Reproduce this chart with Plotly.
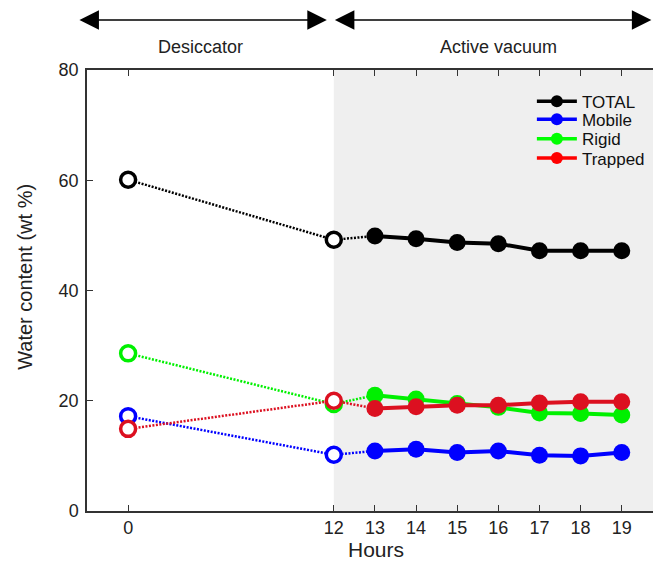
import plotly.graph_objects as go

# ---- data ----
hours = [0, 12, 13, 14, 15, 16, 17, 18, 19]
total = [60.1, 49.2, 49.9, 49.4, 48.7, 48.5, 47.2, 47.2, 47.2]
mobile = [17.2, 10.2, 10.9, 11.2, 10.6, 10.9, 10.1, 10.0, 10.6]
rigid = [28.6, 19.4, 21.0, 20.3, 19.5, 18.8, 17.8, 17.7, 17.4]
trapped = [14.9, 20.0, 18.6, 18.9, 19.2, 19.2, 19.6, 19.8, 19.8]
series_names = ["TOTAL", "Mobile", "Rigid", "Trapped"]
phase_labels = ["Desiccator", "Active vacuum"]
n_desiccator = 2  # first two points (0 h, 12 h) are desiccator samples


# broken time axis: 0-12 h compressed into 5 axis units
def axis_pos(h):
    return h if h >= 12 else 12 - 5 * (12 - h) / 12


xpos = [axis_pos(h) for h in hours]

colors = {"TOTAL": "#000000", "Mobile": "#0000ff", "Rigid": "#00f000", "Trapped": "#dc1020"}
legend_colors = {"TOTAL": "#000000", "Mobile": "#0000ff", "Rigid": "#00ff00", "Trapped": "#ff0000"}
data = {"TOTAL": total, "Mobile": mobile, "Rigid": rigid, "Trapped": trapped}

FONT = "Liberation Sans, Arial, Helvetica, sans-serif"
TXT = "#222222"
fig = go.Figure()

draw_order = ["Mobile", "Rigid", "Trapped", "TOTAL"]
for name in draw_order:
    c = colors[name]
    y = data[name]
    # dotted connection 0 -> 12 -> 13
    fig.add_trace(go.Scatter(x=xpos[:n_desiccator + 1], y=y[:n_desiccator + 1], mode="lines",
                             line=dict(color=c, width=2.5, dash="2px,1.5px"),
                             showlegend=False, hoverinfo="skip"))
    # solid active vacuum
    fig.add_trace(go.Scatter(x=xpos[n_desiccator:], y=y[n_desiccator:], mode="lines+markers",
                             line=dict(color=c, width=4),
                             marker=dict(color=c, size=17, symbol="circle"),
                             showlegend=False))
    # open desiccator markers
    fig.add_trace(go.Scatter(x=xpos[:n_desiccator], y=y[:n_desiccator], mode="markers",
                             marker=dict(color="white", size=15, symbol="circle",
                                         line=dict(color=c, width=3.5)),
                             showlegend=False))

# one legend per entry so that the entries sit close together
legend_ids = ["legend", "legend2", "legend3", "legend4"]
legend_tops = [0.969, 0.928, 0.884, 0.840]
for name, lid in zip(series_names, legend_ids):
    fig.add_trace(go.Scatter(x=[None], y=[None], mode="lines+markers", name=name, legend=lid,
                             line=dict(color=legend_colors[name], width=3.5),
                             marker=dict(color=legend_colors[name], size=12)))

# shaded active vacuum region
fig.add_shape(type="rect", xref="x", yref="paper", x0=12, x1=20.5, y0=0, y1=1,
              fillcolor="#efefef", line=dict(width=0), layer="below")

# phase arrows
arrow_y = 1.1134
for x0, x1 in [(5.78, 11.83), (11.99, 19.72)]:
    fig.add_annotation(x=x1, y=arrow_y, ax=x0, ay=0, xref="x", yref="paper",
                       axref="x", ayref="pixel", text="", showarrow=True,
                       arrowhead=2, startarrowhead=2, arrowside="end+start",
                       arrowwidth=1.5, arrowsize=2.6, startarrowsize=2.6, arrowcolor="black")
for xc, txt in [(8.77, phase_labels[0]), (16.01, phase_labels[1])]:
    fig.add_annotation(x=xc, y=1.052, xref="x", yref="paper", text=txt, showarrow=False,
                       font=dict(size=18, color=TXT, family=FONT), yanchor="middle")

# axis titles
fig.add_annotation(x=-0.1095, y=0.531, xref="paper", yref="paper", text="Water content (wt %)",
                   textangle=-90, showarrow=False, xanchor="center", yanchor="middle",
                   font=dict(size=20, color=TXT, family=FONT))
fig.add_annotation(x=0.51, y=-0.0884, xref="paper", yref="paper", text="Hours",
                   showarrow=False, xanchor="center", yanchor="middle",
                   font=dict(size=21, color=TXT, family=FONT))

legend_common = dict(x=0.786, xanchor="left", yanchor="top", bgcolor="rgba(0,0,0,0)",
                     font=dict(size=17, color="#111", family=FONT), itemwidth=40)
layout_legends = {lid: dict(y=yt, **legend_common) for lid, yt in zip(legend_ids, legend_tops)}

fig.update_layout(
    width=645, height=558,
    margin=dict(l=79, r=0, t=62, b=55),
    plot_bgcolor="white", paper_bgcolor="white",
    font=dict(family=FONT, size=18, color=TXT),
    showlegend=True,
    **layout_legends,
)
fig.update_xaxes(range=[6, 19.76], tickvals=xpos, ticktext=[str(h) for h in hours],
                 showline=True, linecolor="#333", linewidth=1.5, mirror="ticks",
                 ticks="inside", ticklen=6, tickcolor="#333", showgrid=False, zeroline=False,
                 tickfont=dict(size=18))
fig.update_yaxes(range=[0, 80], tickvals=[0, 20, 40, 60, 80],
                 showline=True, linecolor="#333", linewidth=1.5, mirror=False,
                 ticks="inside", ticklen=6, tickcolor="#333", showgrid=False, zeroline=False,
                 tickfont=dict(size=18), ticklabelstandoff=3)

fig.write_html("out.html")
